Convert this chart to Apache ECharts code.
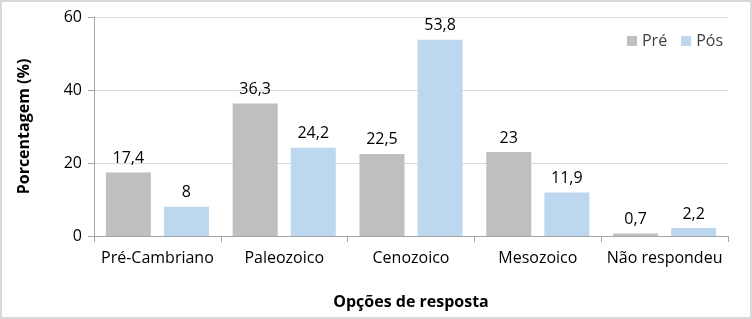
<!DOCTYPE html>
<html><head><meta charset="utf-8">
<script src="https://cdn.jsdelivr.net/npm/echarts@6/dist/echarts.min.js"></script>
<style>html,body{margin:0;padding:0;background:#fff}#c{width:752px;height:319px;box-sizing:border-box;border:2px solid #d9d9d9}</style>
</head><body><div id="c"></div>
<script>
const categories = ['Pré-Cambriano', 'Paleozoico', 'Cenozoico', 'Mesozoico', 'Não respondeu'];
const pre = [17.4, 36.3, 22.5, 23, 0.7];
const pos = [8, 24.2, 53.8, 11.9, 2.2];
const yTicks = [0, 20, 40, 60];
const fmt = p => String(p.value).replace('.', ',');
const chart = echarts.init(document.getElementById('c'), null, {renderer: 'canvas'});
const font = 'Open Sans';
chart.setOption({
  animation: false,
  grid: {left: 92, right: 22, top: 15, bottom: 81},
  legend: {
    right: 22, top: 26, itemWidth: 10, itemHeight: 10, itemGap: 14,
    icon: 'rect',
    textStyle: {fontFamily: font, fontSize: 16, color: '#404040'},
    data: ['Pré', 'Pós']
  },
  xAxis: {
    type: 'category', data: categories,
    name: 'Opções de resposta', nameLocation: 'middle', nameGap: 58,
    nameTextStyle: {fontFamily: font, fontSize: 16, fontWeight: 'bold', color: '#000'},
    axisLine: {lineStyle: {color: '#a6a6a6'}},
    axisTick: {show: true, length: 6, lineStyle: {color: '#a6a6a6'}},
    axisLabel: {interval: 0, fontFamily: font, fontSize: 16, color: '#000', margin: 14}
  },
  yAxis: {
    type: 'value', min: yTicks[0], max: yTicks[yTicks.length - 1], interval: 20,
    name: 'Porcentagem (%)', nameLocation: 'middle', nameGap: 62,
    nameTextStyle: {fontFamily: font, fontSize: 16, fontWeight: 'bold', color: '#000'},
    axisLine: {show: true, lineStyle: {color: '#a6a6a6'}},
    axisTick: {show: true, length: 6, inside: false, lineStyle: {color: '#a6a6a6'}},
    splitLine: {lineStyle: {color: '#d9d9d9'}},
    axisLabel: {fontFamily: font, fontSize: 16, color: '#000', margin: 12}
  },
  series: [
    {name: 'Pré', type: 'bar', data: pre, barWidth: '35.5%', barGap: '29%',
     itemStyle: {color: '#bfbfbf'},
     label: {show: true, position: 'top', distance: 6, formatter: fmt, fontFamily: font, fontSize: 16, color: '#000'}},
    {name: 'Pós', type: 'bar', data: pos, barWidth: '35.5%',
     itemStyle: {color: '#bdd7ee'},
     label: {show: true, position: 'top', distance: 6, formatter: fmt, fontFamily: font, fontSize: 16, color: '#000'}}
  ]
});
</script></body></html>
